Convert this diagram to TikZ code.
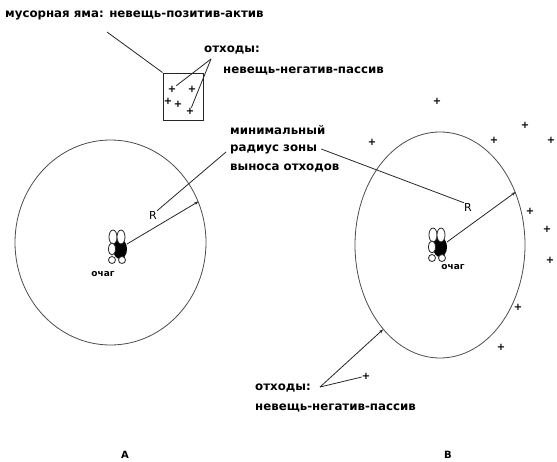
\documentclass[tikz,border=0pt]{standalone}
\usepackage{fontspec}
\setmainfont{DejaVu Sans}
\usetikzlibrary{shapes.geometric,arrows.meta}
\tikzset{
  lbl/.style={font=\bfseries\fontsize{11.8}{12}\selectfont, inner sep=0pt, anchor=west, text=black},
  olbl/.style={font=\bfseries\fontsize{9}{10}\selectfont, inner sep=0pt, text=black},
  rlbl/.style={font=\fontsize{11}{12}\selectfont, inner sep=0pt},
  plus/.style={font=\bfseries\fontsize{10}{10}\selectfont, inner sep=0pt},
  ln/.style={draw=black!85, line width=0.8pt},
  arr/.style={ln, -{Stealth[length=4pt,width=3pt]}},
  ell/.style={draw=black!70, line width=0.8pt, ellipse, inner sep=0pt},
  hr/.style={draw=black!85, line width=0.8pt, fill=white},
}
\begin{document}
\begin{tikzpicture}[x=1pt,y=-1pt]
\useasboundingbox (0,0) rectangle (557,461);
% texts
\node[lbl] (t1) at (5,15) {мусорная яма: невещь-позитив-актив};
\node[lbl] (t2) at (204,50) {отходы:};
\node[lbl] (t3) at (223,71) {невещь-негатив-пассив};
\node[lbl] (m1) at (230,130) {минимальный};
\node[lbl] (m2) at (230,149) {радиус зоны};
\node[lbl] (m3) at (230,168) {выноса отходов};
\node[lbl] (b1) at (255,388) {отходы:};
\node[lbl] (b2) at (255,408) {невещь-негатив-пассив};
\node[olbl] (o1) at (103,274) {очаг};
\node[olbl] (o2) at (453,267) {очаг};
\node[rlbl] (r1) at (153,215) {R};
\node[rlbl] (r2) at (468,207) {R};
\node[rlbl, font=\bfseries\fontsize{10}{11}\selectfont] (la) at (125,455) {А};
\node[rlbl, font=\bfseries\fontsize{10}{11}\selectfont] (lb) at (448,455) {В};
% box
\node[draw=black!85, line width=1pt, minimum width=40pt, minimum height=47pt, inner sep=0pt] (box) at (183,96.5) {};
\node[plus] (q1) at (172,89) {+};
\node[plus] (q2) at (192,89) {+};
\node[plus] (q3) at (168,101) {+};
\node[plus] (q4) at (178,104) {+};
\node[plus] (q5) at (190,111) {+};
% ellipses
\node[ell, minimum width=191pt, minimum height=205pt] (E1) at (110.5,242.5) {};
\node[ell, minimum width=170pt, minimum height=226pt] (E2) at (440,245) {};
% pluses outside
\node[plus] (p1) at (437,101) {+};
\node[plus] (p2) at (372,142) {+};
\node[plus] (p3) at (494,140) {+};
\node[plus] (p4) at (525,125) {+};
\node[plus] (p5) at (551,140) {+};
\node[plus] (p6) at (530,211) {+};
\node[plus] (p7) at (547,229) {+};
\node[plus] (p8) at (550,260) {+};
\node[plus] (p11) at (518,307) {+};
\node[plus] (p9) at (501,347) {+};
\node[plus] (p10) at (366,376) {+};
% hearths
\foreach \n/\cx/\cy in {h1/117/246, h2/437/244}{
  \begin{scope}[shift={(\cx,\cy)}]
    \fill[black] (3,3) ellipse [x radius=7, y radius=10];
    \draw[hr] (-4,-9) ellipse [x radius=4, y radius=7];
    \draw[hr] (4,-9) ellipse [x radius=4, y radius=7];
    \draw[hr] (-5,3) ellipse [x radius=3.5, y radius=6];
    \draw[hr] (-5,14) circle [radius=3.5];
    \draw[hr] (5,14) circle [radius=3.5];
    \coordinate (\n) at (10,-2);
  \end{scope}
}
% connectors
\coordinate (c1) at (107,32);
\draw[ln] (c1) -- (box.north west);
\coordinate (apex) at (211,59);
\draw[ln] (apex) -- (q1);
\draw[ln] (apex) -- (q5);
\draw[ln] (m2.west) ++(-4,3) coordinate (m2w) -- (r1.north east);
\draw[ln] (m2.east) ++(4,0) coordinate (m2e) -- (r2.north west);
\draw[arr] (h1) -- (E1.25);
\draw[arr] (h2) -- (E2.35);
\coordinate (bapex) at (320,387);
\draw[arr] (bapex) -- (E2.236);
\draw[ln] (bapex) -- (p10);
\end{tikzpicture}
\end{document}
